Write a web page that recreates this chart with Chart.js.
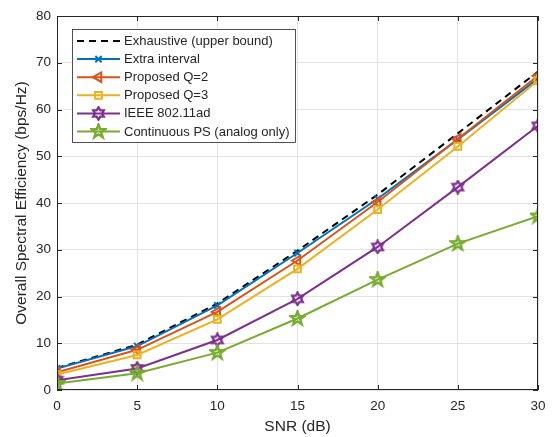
<!DOCTYPE html>
<html><head><meta charset="utf-8">
<script src="https://cdn.jsdelivr.net/npm/chart.js@4/dist/chart.umd.min.js"></script>
<style>html,body{margin:0;padding:0;background:#fff;}#wrap{width:555px;height:437px;position:relative;}</style>
</head><body><div id="wrap"><canvas id="c" width="555" height="437"></canvas></div>
<script>
const snr = [0, 5, 10, 15, 20, 25, 30];
const exhaustive = [4.7, 9.7, 18.5, 29.8, 41.8, 54.9, 68.1];
const extraInterval = [4.6, 9.4, 18.1, 29.3, 40.9, 53.6, 66.6];
const proposedQ2 = [3.8, 8.6, 16.7, 27.7, 40.2, 53.7, 67.2];
const proposedQ3 = [3.3, 7.5, 15.1, 25.9, 38.6, 52.1, 66.2];
const ieee = [2.1, 4.6, 10.7, 19.5, 30.6, 43.4, 56.5];
const continuousPS = [1.4, 3.6, 8.0, 15.3, 23.6, 31.3, 37.2];
const seriesNames = ['Exhaustive (upper bound)', 'Extra interval', 'Proposed Q=2', 'Proposed Q=3', 'IEEE 802.11ad', 'Continuous PS (analog only)'];
const xTicks = [0, 5, 10, 15, 20, 25, 30];
const yTicks = [0, 10, 20, 30, 40, 50, 60, 70, 80];
const xTitle = 'SNR (dB)';
const yTitle = 'Overall Spectral Efficiency (bps/Hz)';

const FONT = '"Liberation Sans", Arial, Helvetica, sans-serif';
const AX = '#262626';

function starCanvas(color, n, size, innerRatio, lw) {
  const c = document.createElement('canvas');
  c.width = size; c.height = size;
  const g = c.getContext('2d');
  const cx = size / 2, cy = size / 2, R = size / 2 - 1.3, r = R * innerRatio;
  g.beginPath();
  for (let i = 0; i < 2 * n; i++) {
    const a = -Math.PI / 2 + i * Math.PI / n;
    const rr = i % 2 === 0 ? R : r;
    const x = cx + rr * Math.cos(a), y = cy + rr * Math.sin(a);
    if (i === 0) g.moveTo(x, y); else g.lineTo(x, y);
  }
  g.closePath();
  g.strokeStyle = color; g.lineWidth = lw; g.lineJoin = 'miter';
  g.stroke();
  return c;
}

const colors = ['#000000', '#0072BD', '#D95319', '#EDB120', '#7E2F8E', '#77AC30'];
const hexagram = starCanvas(colors[4], 6, 15, 0.577, 2.2);
const pentagram = starCanvas(colors[5], 5, 17, 0.40, 2.4);

const seriesData = [exhaustive, extraInterval, proposedQ2, proposedQ3, ieee, continuousPS];
const styles = [
  { pointStyle: false, radius: 0, dash: [7, 5], rot: 0 },
  { pointStyle: 'crossRot', radius: 4.5, dash: [], rot: 0 },
  { pointStyle: 'triangle', radius: 5.5, dash: [], rot: -90 },
  { pointStyle: 'rect', radius: 4.8, dash: [], rot: 0 },
  { pointStyle: hexagram, radius: 7, dash: [], rot: 0 },
  { pointStyle: pentagram, radius: 8, dash: [], rot: 0 }
];

const datasets = seriesData.map((vals, i) => ({
  label: seriesNames[i],
  data: snr.map((x, j) => ({ x: x, y: vals[j] })),
  borderColor: colors[i],
  backgroundColor: 'rgba(0,0,0,0)',
  borderWidth: 2,
  borderDash: styles[i].dash,
  pointStyle: styles[i].pointStyle,
  pointRadius: styles[i].radius,
  pointHoverRadius: styles[i].radius,
  pointRotation: styles[i].rot,
  pointBorderColor: colors[i],
  pointBackgroundColor: 'rgba(0,0,0,0)',
  pointBorderWidth: 2,
  tension: 0,
  order: 6 - i
}));

const L = 57, R = 538, T = 16, B = 390;

const decor = {
  id: 'decor',
  afterDraw(chart) {
    const ctx = chart.ctx;
    const xs = chart.scales.x, ys = chart.scales.y;
    const ca = chart.chartArea;
    ctx.save();
    // box
    ctx.strokeStyle = AX; ctx.lineWidth = 1;
    ctx.strokeRect(Math.round(ca.left) + 0.5, Math.round(ca.top) + 0.5, Math.round(ca.right - ca.left) - 1, Math.round(ca.bottom - ca.top) - 1);
    // inward ticks
    ctx.beginPath();
    xTicks.forEach(v => {
      const px = Math.round(xs.getPixelForValue(v)) + 0.5;
      ctx.moveTo(px, ca.bottom); ctx.lineTo(px, ca.bottom - 5);
      ctx.moveTo(px, ca.top); ctx.lineTo(px, ca.top + 5);
    });
    yTicks.forEach(v => {
      const py = Math.round(ys.getPixelForValue(v)) + 0.5;
      ctx.moveTo(ca.left, py); ctx.lineTo(ca.left + 5, py);
      ctx.moveTo(ca.right, py); ctx.lineTo(ca.right - 5, py);
    });
    ctx.stroke();
    // tick labels
    ctx.fillStyle = AX;
    ctx.font = '13.5px ' + FONT;
    ctx.textAlign = 'center'; ctx.textBaseline = 'middle';
    xTicks.forEach(v => ctx.fillText(String(v), xs.getPixelForValue(v), 406));
    ctx.textAlign = 'right';
    yTicks.forEach(v => ctx.fillText(String(v), 51, ys.getPixelForValue(v)));
    // titles
    ctx.font = '15.5px ' + FONT;
    ctx.textAlign = 'center';
    ctx.fillText(xTitle, (ca.left + ca.right) / 2, 427);
    ctx.save();
    ctx.translate(22, (ca.top + ca.bottom) / 2);
    ctx.rotate(-Math.PI / 2);
    ctx.fillText(yTitle, 0, 0);
    ctx.restore();
    // legend
    const lx = 72, ly = 29, lw = 223, lh = 113;
    ctx.fillStyle = '#ffffff';
    ctx.fillRect(lx, ly, lw, lh);
    ctx.strokeStyle = AX; ctx.lineWidth = 0.8;
    ctx.strokeRect(lx + 0.5, ly + 0.5, lw, lh);
    ctx.font = '13px ' + FONT;
    ctx.textAlign = 'left'; ctx.textBaseline = 'middle';
    chart.data.datasets.forEach((ds, i) => {
      const yy = 41 + i * 18.1;
      ctx.save();
      ctx.strokeStyle = ds.borderColor; ctx.lineWidth = ds.borderWidth;
      ctx.setLineDash(ds.borderDash);
      ctx.beginPath(); ctx.moveTo(77, yy); ctx.lineTo(120, yy); ctx.stroke();
      ctx.setLineDash([]);
      if (ds.pointStyle) {
        ctx.strokeStyle = ds.pointBorderColor; ctx.fillStyle = 'rgba(0,0,0,0)';
        ctx.lineWidth = ds.pointBorderWidth;
        Chart.helpers.drawPoint(ctx, { pointStyle: ds.pointStyle, radius: ds.pointRadius, rotation: ds.pointRotation, borderWidth: ds.pointBorderWidth }, 98.5, yy);
      }
      ctx.restore();
      ctx.fillStyle = AX;
      ctx.fillText(ds.label, 124, yy + 0.5);
    });
    ctx.restore();
  }
};

new Chart(document.getElementById('c'), {
  type: 'line',
  data: { datasets: datasets },
  options: {
    responsive: false,
    animation: false,
    events: [],
    layout: { padding: { left: 0, right: 555 - R, top: T, bottom: 0 } },
    plugins: { legend: { display: false }, tooltip: { enabled: false } },
    scales: {
      x: {
        type: 'linear', min: 0, max: 30,
        afterBuildTicks: s => { s.ticks = xTicks.map(v => ({ value: v })); },
        afterFit: s => { s.height = 437 - B; },
        ticks: { display: false },
        grid: { color: '#e3e3e3', lineWidth: 1, drawTicks: false },
        border: { display: false }
      },
      y: {
        type: 'linear', min: 0, max: 80,
        afterBuildTicks: s => { s.ticks = yTicks.map(v => ({ value: v })); },
        afterFit: s => { s.width = L; },
        ticks: { display: false },
        grid: { color: '#e3e3e3', lineWidth: 1, drawTicks: false },
        border: { display: false }
      }
    }
  },
  plugins: [decor]
});
</script></body></html>
